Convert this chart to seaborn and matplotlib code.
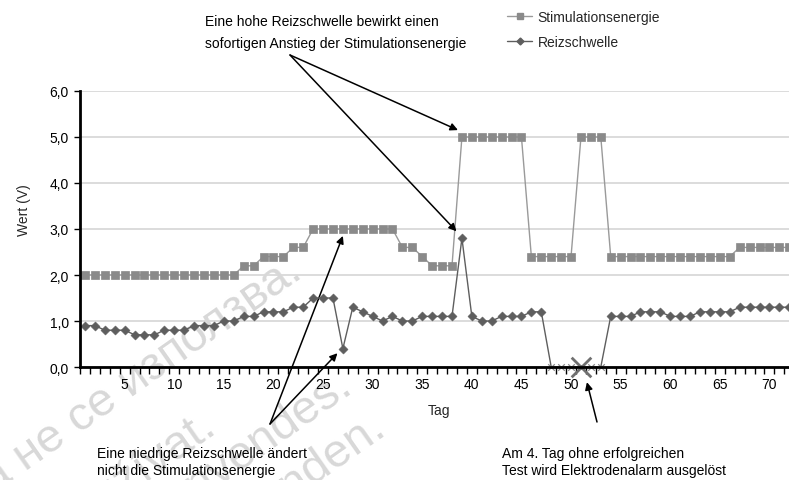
import matplotlib
matplotlib.use("Agg")
import matplotlib.pyplot as plt
from matplotlib.lines import Line2D
import pandas as pd
import seaborn as sns

sns.set_theme(style="white")
plt.rcParams["font.family"] = ["Liberation Sans", "DejaVu Sans"]

# Daily measurements
days = list(range(1, 73))
stimulation = ([2.0] * 16 + [2.2] * 2 + [2.4] * 3 + [2.6] * 2 + [3.0] * 9 +
               [2.6] * 2 + [2.4] + [2.2] * 3 + [5.0] * 7 + [2.4] * 5 +
               [5.0] * 3 + [2.4] * 13 + [2.6] * 6)
threshold = ([0.9] * 2 + [0.8] * 3 + [0.7] * 3 + [0.8] * 3 + [0.9] * 3 +
             [1.0] * 2 + [1.1] * 2 + [1.2] * 3 + [1.3] * 2 + [1.5] * 3 +
             [0.4, 1.3, 1.2, 1.1, 1.0, 1.1, 1.0, 1.0] + [1.1] * 4 + [2.8] +
             [1.1, 1.0, 1.0, 1.1, 1.1, 1.1, 1.2, 1.2] + [0.0] * 6 +
             [1.1] * 3 + [1.2] * 3 + [1.1] * 3 + [1.2] * 4 + [1.3] * 6)
failed_days = [48, 49, 50, 51, 52, 53]
alarm_day = 51

y_ticks = [0, 1, 2, 3, 4, 5, 6]
y_tick_labels = ["0,0", "1,0", "2,0", "3,0", "4,0", "5,0", "6,0"]
x_tick_values = [5, 10, 15, 20, 25, 30, 35, 40, 45, 50, 55, 60, 65, 70]

df = pd.DataFrame({"Tag": days, "Stim": stimulation, "Reiz": threshold})
ok = df[~df["Tag"].isin(failed_days)]
fail = df[df["Tag"].isin(failed_days)]

STIM_COLOR = "#8a8a8a"
STIM_LINE = "#9a9a9a"
REIZ_COLOR = "#5e5e5e"

W, H = 789, 481
fig = plt.figure(figsize=(W / 100, H / 100), dpi=100)
fig.patch.set_facecolor("white")


def fx(px):
    return px / W


def fy(py):
    return 1 - py / H


# Axes: x from 0.5 to 72.5 at ~9.92 px per day, y 0..6 over 276 px
ax = fig.add_axes([fx(80), fy(368), 72 * 9.92 / W, 276 / H])
ax.set_facecolor("none")

# Faint background watermark lines
wm_kw = dict(fontsize=34, color="#d8d8d8", rotation=35, rotation_mode="anchor",
             ha="right", va="baseline", zorder=-5)
fig.text(fx(304), fy(276), "Остаряла версия. Да не се използва.", **wm_kw)
fig.text(fx(218), fy(432), "Zastaralá verze. Nepoužívat.", **wm_kw)
fig.text(fx(354), fy(392), "Forældet version. Må ikke anvendes.", **wm_kw)
fig.text(fx(388), fy(434), "Veraltete Version. Nicht verwenden.", **wm_kw)

# Series
sns.lineplot(data=df, x="Tag", y="Stim", ax=ax, color=STIM_LINE, linewidth=1.0,
             marker="s", markersize=5.5, markerfacecolor=STIM_COLOR,
             markeredgecolor=STIM_COLOR, markeredgewidth=0.5, zorder=3)
sns.lineplot(data=df, x="Tag", y="Reiz", ax=ax, color=REIZ_COLOR, linewidth=1.0,
             zorder=4)
sns.scatterplot(data=ok, x="Tag", y="Reiz", ax=ax, marker="D", s=22,
                color=REIZ_COLOR, edgecolor=REIZ_COLOR, linewidth=0.3, zorder=5)
sns.scatterplot(data=fail, x="Tag", y="Reiz", ax=ax, marker="x", s=22,
                color="#8a8a8a", linewidth=0.9, zorder=6, clip_on=False)
sns.scatterplot(x=[alarm_day], y=[0.0], ax=ax, marker="x", s=200,
                color="#707070", linewidth=2.0, zorder=7, clip_on=False)

ax.set_xlim(0.5, 72.5)
ax.set_ylim(0, 6)

# Grid and spines
ax.set_yticks(y_ticks)
ax.set_yticklabels(y_tick_labels)
ax.yaxis.grid(True, color="#d9d9d9", linewidth=1.3, zorder=0)
ax.xaxis.grid(False)
ax.set_axisbelow(True)
for side in ("top", "right"):
    ax.spines[side].set_visible(False)
for side in ("left", "bottom"):
    ax.spines[side].set_color("black")
    ax.spines[side].set_linewidth(2.0)
    ax.spines[side].set_zorder(8)

ax.set_xticks(x_tick_values)
ax.set_xticklabels([str(v) for v in x_tick_values])
ax.set_xticks([d + 0.5 for d in range(0, 73)], minor=True)
ax.tick_params(axis="x", which="major", length=0, pad=7, labelsize=10,
               labelcolor="black")
ax.tick_params(axis="x", which="minor", direction="out", length=5, width=1.0,
               color="black", bottom=True)
ax.tick_params(axis="y", which="major", direction="out", length=4, width=1.0,
               color="black", left=True, pad=4, labelsize=10, labelcolor="black")

ax.set_xlabel("")
ax.set_ylabel("")
fig.text(fx(439), fy(411), "Tag", fontsize=10, ha="center", va="center")
fig.text(fx(24), fy(210), "Wert (V)", fontsize=10, ha="center", va="center",
         rotation=90)

# Legend
handles = [
    Line2D([], [], color=STIM_LINE, linewidth=1.0, marker="s", markersize=5,
           markerfacecolor=STIM_COLOR, markeredgecolor=STIM_COLOR),
    Line2D([], [], color=REIZ_COLOR, linewidth=1.0, marker="D", markersize=3.5,
           markerfacecolor=REIZ_COLOR, markeredgecolor=REIZ_COLOR),
]
fig.legend(handles, ["Stimulationsenergie", "Reizschwelle"], loc="upper left",
           bbox_to_anchor=(fx(507), fy(11)), frameon=False, fontsize=10,
           handlelength=1.8, handletextpad=0.4, labelspacing=0.8,
           borderaxespad=0, borderpad=0)

# Callouts
arrow = dict(arrowstyle="-|>", color="black", lw=1.1, mutation_scale=11,
             shrinkA=0, shrinkB=0)
txt_kw = dict(fontsize=10, color="black", ha="left", va="top")

fig.text(fx(205), fy(15),
         "Eine hohe Reizschwelle bewirkt einen\nsofortigen Anstieg der Stimulationsenergie",
         linespacing=1.75, **txt_kw)
for tip in [(38.6, 5.15), (38.45, 2.95)]:
    ax.annotate("", xy=tip, xycoords="data", xytext=(fx(290), fy(56)),
                textcoords="figure fraction", arrowprops=arrow,
                annotation_clip=False)

fig.text(fx(97), fy(447),
         "Eine niedrige Reizschwelle ändert\nnicht die Stimulationsenergie",
         linespacing=1.3, **txt_kw)
for tip in [(27.0, 2.85), (26.45, 0.3)]:
    ax.annotate("", xy=tip, xycoords="data", xytext=(fx(270), fy(425)),
                textcoords="figure fraction", arrowprops=arrow,
                annotation_clip=False)

fig.text(fx(502), fy(447),
         "Am 4. Tag ohne erfolgreichen\nTest wird Elektrodenalarm ausgelöst",
         linespacing=1.3, **txt_kw)
ax.annotate("", xy=(51.6, -0.33), xycoords="data", xytext=(fx(597), fy(423)),
            textcoords="figure fraction", arrowprops=arrow,
            annotation_clip=False)

fig.savefig("out.png", dpi=100, facecolor="white")
